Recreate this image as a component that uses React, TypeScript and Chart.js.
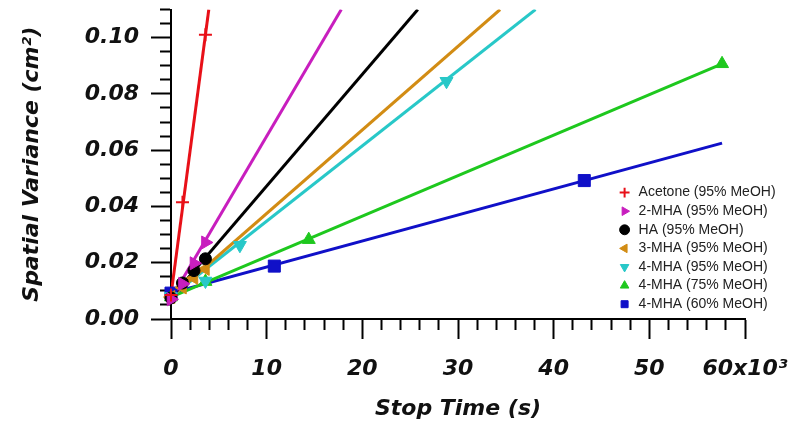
import React, { useEffect, useRef } from 'react';
import { Chart, registerables } from 'chart.js';

Chart.register(...registerables);

// ---- data ----
const seriesNames = [
  'Acetone (95% MeOH)',
  '2-MHA (95% MeOH)',
  'HA (95% MeOH)',
  '3-MHA (95% MeOH)',
  '4-MHA (95% MeOH)',
  '4-MHA (75% MeOH)',
  '4-MHA (60% MeOH)',
];

const acetoneTimes = [0, 1200, 3600];
const acetoneVar = [0.0085, 0.0415, 0.101];
const mha2Times = [0, 1200, 2400, 3600];
const mha2Var = [0.007, 0.0125, 0.0198, 0.0272];
const haTimes = [0, 1200, 2400, 3600];
const haVar = [0.0075, 0.0128, 0.0172, 0.0214];
const mha3Times = [0, 1200, 2400, 3600];
const mha3Var = [0.0078, 0.0112, 0.0146, 0.0178];
const mha4m95Times = [0, 3600, 7200, 28800];
const mha4m95Var = [0.008, 0.0135, 0.0262, 0.0845];
const mha4m75Times = [0, 3600, 14400, 57600];
const mha4m75Var = [0.0078, 0.0133, 0.0282, 0.0907];
const mha4m60Times = [0, 10800, 43200];
const mha4m60Var = [0.0092, 0.0188, 0.0492];

// fitted lines: start and end points
const fitStartTimes = [0, 0, 0, 0, 0, 0, 0];
const fitStartVar = [0.0085, 0.0072, 0.0075, 0.0078, 0.008, 0.0078, 0.0092];
const fitEndTimes = [3950, 17800, 25800, 34400, 38100, 57600, 57600];
const fitEndVar = [0.11, 0.11, 0.11, 0.11, 0.11, 0.0907, 0.0625];

// axis ticks
const xMajorStep = 10000;
const xMinorStep = 2000;
const yMajorStep = 0.02;
const yMinorStep = 0.005;
const xMax = 60000;
const yMax = 0.11;

// ---- styles ----
const colors = [
  'rgb(232,16,24)',
  'rgb(200,30,190)',
  'rgb(0,0,0)',
  'rgb(210,140,20)',
  'rgb(40,200,200)',
  'rgb(30,200,30)',
  'rgb(16,16,200)',
];
const pointStyles = ['cross', 'triangle', 'circle', 'triangle', 'triangle', 'triangle', 'rect'];
const pointRotations = [0, 90, 0, -90, 180, 0, 0];
const pointRadii = [6.5, 7.5, 6, 7.5, 7.5, 7.5, 8.5];

const seriesTimes = [acetoneTimes, mha2Times, haTimes, mha3Times, mha4m95Times, mha4m75Times, mha4m60Times];
const seriesVars = [acetoneVar, mha2Var, haVar, mha3Var, mha4m95Var, mha4m75Var, mha4m60Var];

const tickFont = { family: 'DejaVu Sans', size: 22, weight: 'bold' as const, style: 'italic' as const };

const isMult = (v: number, step: number) => Math.abs(v / step - Math.round(v / step)) < 1e-6;

const legendPlacer = {
  id: 'legendPlacer',
  afterLayout(chart: any) {
    const l = chart.legend;
    if (!l) return;
    const w = l.width;
    const h = l.height;
    l.left = 613;
    l.top = 181;
    l.right = 613 + w;
    l.bottom = 181 + h;
  },
};

export default function App() {
  const ref = useRef<HTMLCanvasElement | null>(null);

  useEffect(() => {
    if (!ref.current) return;
    const markerSets = seriesNames.map((name, i) => ({
      type: 'scatter' as const,
      label: name,
      data: seriesTimes[i].map((t, j) => ({ x: t, y: seriesVars[i][j] })),
      backgroundColor: colors[i],
      borderColor: colors[i],
      pointStyle: pointStyles[i],
      pointRotation: pointRotations[i],
      pointRadius: pointRadii[i],
      pointBorderWidth: pointStyles[i] === 'cross' ? 2 : 1,
      showLine: false,
      clip: 14,
      order: 0,
    }));
    const fitSets = seriesNames.map((_, i) => ({
      type: 'scatter' as const,
      label: '',
      data: [
        { x: fitStartTimes[i], y: fitStartVar[i] },
        { x: fitEndTimes[i], y: fitEndVar[i] },
      ],
      borderColor: colors[i],
      backgroundColor: colors[i],
      borderWidth: 3,
      pointRadius: 0,
      showLine: true,
      order: 1,
    }));

    const chart = new Chart(ref.current, {
      type: 'scatter',
      data: { datasets: [...markerSets, ...fitSets] as any },
      options: {
        animation: false,
        responsive: false,
        events: [],
        layout: { padding: { left: 8, top: 5, right: 55, bottom: 0 } },
        plugins: {
          tooltip: { enabled: false },
          legend: {
            display: true,
            position: 'chartArea' as any,
            align: 'start',
            labels: {
              usePointStyle: true,
              boxHeight: 7,
              padding: 4.6,
              color: '#222',
              font: { family: 'Liberation Sans', size: 14 },
              filter: (item: any) => item.text !== '',
            },
          },
        },
        scales: {
          x: {
            type: 'linear',
            position: 'bottom',
            min: 0,
            max: xMax,
            border: { display: true, color: '#000', width: 2 },
            grid: {
              display: true,
              drawOnChartArea: false,
              drawTicks: true,
              tickLength: 20,
              tickColor: '#000',
              tickWidth: 2,
              tickBorderDash: (ctx: any) =>
                ctx.tick && isMult(ctx.tick.value, xMajorStep) ? [] : [10, 30],
            } as any,
            ticks: {
              stepSize: xMinorStep,
              autoSkip: false,
              maxRotation: 0,
              minRotation: 0,
              padding: 17,
              color: '#111',
              font: tickFont,
              callback: (v: any) => {
                const n = Number(v);
                if (!isMult(n, xMajorStep)) return '';
                if (n === xMax) return '60x10\u00B3';
                return String(Math.round(n / 1000));
              },
            },
            title: {
              display: true,
              text: 'Stop Time (s)',
              color: '#111',
              font: tickFont,
              padding: { top: 0, bottom: 16 },
            },
            afterFit: (s: any) => {
              s.height = 119;
              s.paddingLeft = 0;
              s.paddingRight = 0;
            },
          },
          y: {
            type: 'linear',
            position: 'left',
            min: 0,
            max: yMax,
            border: { display: true, color: '#000', width: 2 },
            grid: {
              display: true,
              drawOnChartArea: false,
              drawTicks: true,
              tickLength: 20,
              tickColor: '#000',
              tickWidth: 2,
              tickBorderDash: (ctx: any) =>
                ctx.tick && isMult(ctx.tick.value, yMajorStep) ? [] : [0, 9, 20, 0],
            } as any,
            ticks: {
              stepSize: yMinorStep,
              autoSkip: false,
              padding: 12,
              color: '#111',
              font: tickFont,
              callback: (v: any) => {
                const n = Number(v);
                return isMult(n, yMajorStep) ? n.toFixed(2) : '';
              },
            },
            title: {
              display: true,
              text: 'Spatial Variance (cm\u00B2)',
              color: '#111',
              font: tickFont,
              padding: { top: 11, bottom: 0 },
            },
            afterFit: (s: any) => {
              s.width = 163;
              s.paddingTop = 0;
              s.paddingBottom = 0;
            },
          },
        },
      },
      plugins: [legendPlacer],
    } as any);
    return () => chart.destroy();
  }, []);

  return (
    <div style={{ position: 'absolute', left: 0, top: 0, width: 800, height: 438, background: '#fff' }}>
      <canvas ref={ref} width={800} height={438} style={{ display: 'block' }} />
    </div>
  );
}
